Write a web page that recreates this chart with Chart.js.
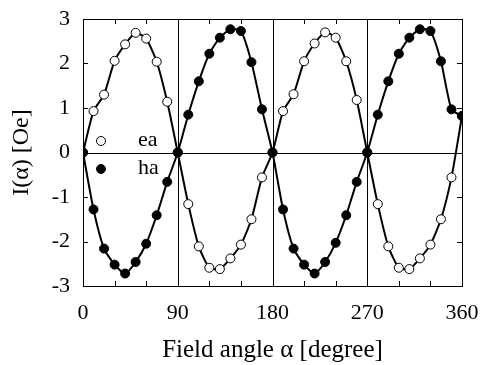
<!DOCTYPE html>
<html>
<head>
<meta charset="utf-8">
<script src="https://cdn.jsdelivr.net/npm/chart.js"></script>
<style>
  html, body { margin: 0; padding: 0; background: #fff; }
  #wrap { width: 480px; height: 365px; position: relative; }
</style>
</head>
<body>
<div id="wrap"><canvas id="chart"></canvas></div>
<script>
// field angles (degree)
const angles = [0, 10, 20, 30, 40, 50, 60, 70, 80, 90,
  100, 110, 120, 130, 140, 150, 160, 170, 180,
  190, 200, 210, 220, 230, 240, 250, 260, 270,
  280, 290, 300, 310, 320, 330, 340, 350, 360];

// easy axis
const eaValues = [0, 0.93, 1.30, 2.06, 2.43, 2.69, 2.56, 2.04, 1.14, 0,
  -1.16, -2.11, -2.59, -2.62, -2.38, -2.07, -1.50, -0.56, 0,
  0.93, 1.31, 2.05, 2.45, 2.70, 2.58, 2.05, 1.18, 0,
  -1.16, -2.11, -2.59, -2.62, -2.38, -2.07, -1.50, -0.56, 0.82];

// hard axis
const haValues = [0, -1.28, -2.16, -2.52, -2.72, -2.46, -2.05, -1.41, -0.66, 0,
  0.85, 1.60, 2.22, 2.58, 2.77, 2.73, 2.03, 0.97, 0,
  -1.28, -2.16, -2.52, -2.72, -2.46, -2.03, -1.41, -0.66, 0,
  0.85, 1.60, 2.22, 2.58, 2.77, 2.73, 2.05, 0.97, 0.82];

const xTicks = [0, 90, 180, 270, 360];
const yTicks = [-3, -2, -1, 0, 1, 2, 3];
const refAngles = [90, 180, 270];

const serif = "'Liberation Serif', 'DejaVu Serif', serif";

function toPoints(values) {
  return angles.map((a, i) => ({ x: a, y: values[i] }));
}

// frame, inner ticks, reference lines and the legend inside the plot
const framePlugin = {
  id: "frame",
  beforeDatasetsDraw(chart) {
    const { ctx, chartArea: a, scales } = chart;
    const x = scales.x, y = scales.y;
    ctx.save();
    ctx.strokeStyle = "#000";
    ctx.lineWidth = 1;
    ctx.beginPath();
    refAngles.forEach((v) => {
      const px = Math.round(x.getPixelForValue(v)) + 0.5;
      ctx.moveTo(px, a.top);
      ctx.lineTo(px, a.bottom);
    });
    const py0 = Math.round(y.getPixelForValue(0)) + 0.5;
    ctx.moveTo(a.left, py0);
    ctx.lineTo(a.right, py0);
    ctx.stroke();
    ctx.restore();
  },
  afterDraw(chart) {
    const { ctx, chartArea: a, scales } = chart;
    const x = scales.x, y = scales.y;
    ctx.save();
    ctx.strokeStyle = "#000";
    ctx.lineWidth = 1;
    ctx.strokeRect(Math.round(a.left) + 0.5, Math.round(a.top) + 0.5,
      Math.round(a.right - a.left), Math.round(a.bottom - a.top));
    ctx.beginPath();
    for (let v = 30; v < 360; v += 30) {
      const px = Math.round(x.getPixelForValue(v)) + 0.5;
      ctx.moveTo(px, a.bottom);
      ctx.lineTo(px, a.bottom - 5);
      ctx.moveTo(px, a.top);
      ctx.lineTo(px, a.top + 5);
    }
    yTicks.forEach((v) => {
      const py = Math.round(y.getPixelForValue(v)) + 0.5;
      ctx.moveTo(a.left, py);
      ctx.lineTo(a.left + 5, py);
      ctx.moveTo(a.right, py);
      ctx.lineTo(a.right - 5, py);
    });
    ctx.stroke();

    // legend
    const items = [
      { label: "ea", fill: "#fff", dy: 0 },
      { label: "ha", fill: "#000", dy: 28 },
    ];
    ctx.font = "22px " + serif;
    ctx.textBaseline = "middle";
    ctx.fillStyle = "#000";
    items.forEach((it) => {
      const cx = a.left + 18, cy = a.top + 122 + it.dy;
      ctx.beginPath();
      ctx.arc(cx, cy, 4.5, 0, Math.PI * 2);
      ctx.fillStyle = it.fill;
      ctx.fill();
      ctx.stroke();
      ctx.fillStyle = "#000";
      ctx.fillText(it.label, a.left + 55, cy - 1);
    });
    ctx.restore();
  },
};

new Chart(document.getElementById("chart"), {
  type: "line",
  data: {
    datasets: [
      {
        label: "ha",
        data: toPoints(haValues),
        borderColor: "#000",
        borderWidth: 2,
        backgroundColor: "#000",
        pointBackgroundColor: "#000",
        pointBorderColor: "#000",
        pointBorderWidth: 1,
        pointRadius: 4.5,
        tension: 0.2,
        order: 1,
      },
      {
        label: "ea",
        data: toPoints(eaValues),
        borderColor: "#000",
        borderWidth: 2,
        backgroundColor: "#fff",
        pointBackgroundColor: "#fff",
        pointBorderColor: "#000",
        pointBorderWidth: 1,
        pointRadius: 4.5,
        tension: 0.2,
        order: 2,
      },
    ],
  },
  options: {
    responsive: true,
    maintainAspectRatio: false,
    animation: false,
    layout: { padding: { top: 19, right: 18, left: 0, bottom: 0 } },
    plugins: {
      legend: { display: false },
      tooltip: { enabled: false },
    },
    scales: {
      x: {
        type: "linear",
        min: 0,
        max: 360,
        afterBuildTicks: (s) => { s.ticks = xTicks.map((v) => ({ value: v })); },
        afterFit: (s) => {
          s.height = 79;
          s.paddingLeft = 0;
          s.paddingRight = 0;
        },
        grid: { display: false, drawTicks: false },
        border: { display: false },
        ticks: {
          color: "#000",
          padding: 14,
          font: { family: serif, size: 22 },
          maxRotation: 0,
        },
        title: {
          display: true,
          text: "Field angle α [degree]",
          color: "#000",
          font: { family: serif, size: 25 },
          padding: { top: 16, bottom: 0 },
        },
      },
      y: {
        min: -3,
        max: 3,
        afterBuildTicks: (s) => { s.ticks = yTicks.map((v) => ({ value: v })); },
        afterFit: (s) => {
          s.width = 83;
          s.paddingTop = 0;
          s.paddingBottom = 0;
        },
        grid: { display: false, drawTicks: false },
        border: { display: false },
        ticks: {
          color: "#000",
          padding: 13,
          font: { family: serif, size: 22 },
        },
        title: {
          display: true,
          text: "I(α) [Oe]",
          color: "#000",
          font: { family: serif, size: 24 },
          padding: { top: 7, bottom: 8 },
        },
      },
    },
  },
  plugins: [framePlugin],
});
</script>
</body>
</html>
